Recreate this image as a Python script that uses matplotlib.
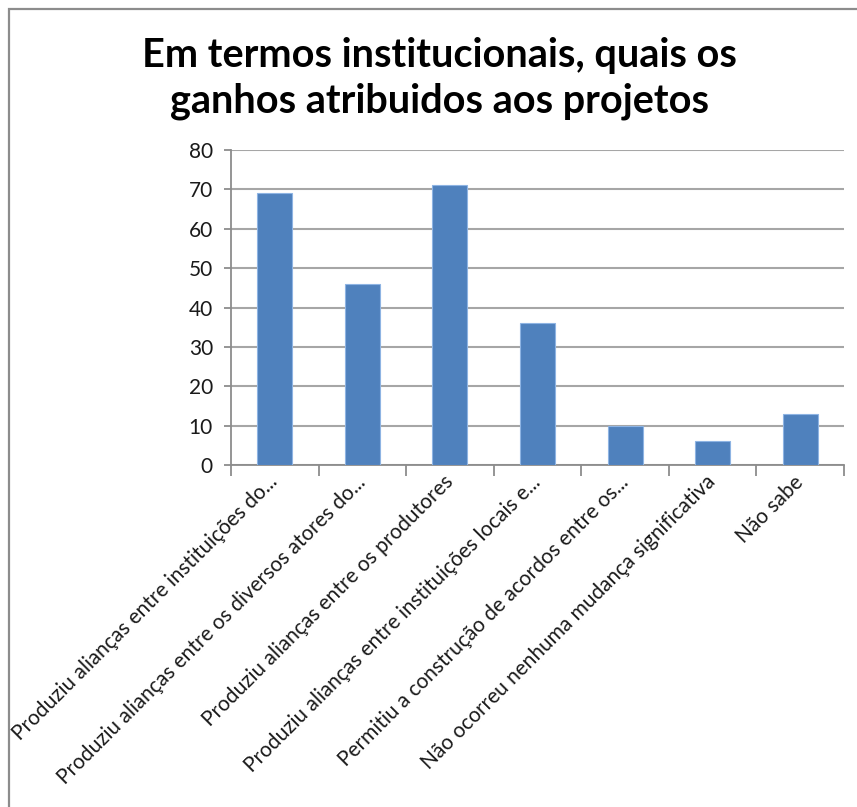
import matplotlib
matplotlib.use("Agg")
import matplotlib.pyplot as plt
from matplotlib.patches import Rectangle
import numpy as np

# dados
categorias = [
    "Produziu alianças entre instituições do...",
    "Produziu alianças entre os diversos atores do...",
    "Produziu alianças entre os produtores",
    "Produziu alianças entre instituições locais e...",
    "Permitiu a construção de acordos entre os...",
    "Não ocorreu nenhuma mudança significativa",
    "Não sabe",
]
valores = [69, 46, 71, 36, 10, 6, 13]
y_ticks = [0, 10, 20, 30, 40, 50, 60, 70, 80]

titulo = "Em termos institucionais, quais os\nganhos atribuidos aos projetos"

plt.rcParams["font.family"] = ["Lato", "DejaVu Sans"]

W, H = 857, 807
fig = plt.figure(figsize=(W / 100, H / 100), dpi=100)
fig.patch.set_facecolor("white")

# moldura (borda do gráfico do Excel)
fig.add_artist(Rectangle((8.5 / W, -0.1), 1.2, 1.1 - 8.5 / H,
                         transform=fig.transFigure, fill=False,
                         edgecolor="#8c8c8c", linewidth=1.6))

ax = fig.add_axes([231 / W, 1 - 465 / H, (844 - 231) / W, (465 - 150) / H])

x = np.arange(len(categorias))
ax.bar(x, valores, width=0.4, color="#4F81BD", edgecolor="#8EB4E3",
       linewidth=0.8, zorder=3)

ax.set_xlim(-0.5, len(categorias) - 0.5)
ax.set_ylim(0, 80)
ax.set_yticks(y_ticks)
ax.yaxis.grid(True, color="#a6a6a6", linewidth=1.5, zorder=0)
ax.set_axisbelow(True)

for s in ["top", "right"]:
    ax.spines[s].set_visible(False)
ax.spines["left"].set_color("#8c8c8c")
ax.spines["bottom"].set_color("#8c8c8c")
ax.spines["left"].set_linewidth(1.3)
ax.spines["bottom"].set_linewidth(1.3)

ax.tick_params(axis="y", length=5, width=1.3, color="#8c8c8c",
               labelsize=15, pad=8, labelcolor="#1a1a1a")
ax.set_xticks(x)
ax.set_xticklabels(categorias, rotation=45, ha="right", va="center",
                   rotation_mode="anchor", fontsize=15, color="#1a1a1a")
ax.tick_params(axis="x", which="major", length=0, pad=10)
ax.set_xticks(np.arange(-0.5, len(categorias)), minor=True)
ax.tick_params(axis="x", which="minor", length=8, width=1.3, color="#8c8c8c")

fig.text(439 / W, 1 - 37 / H, titulo, ha="center", va="top",
         fontsize=28.5, fontweight="bold", linespacing=1.28, color="black")

fig.savefig("out.png", dpi=100)
